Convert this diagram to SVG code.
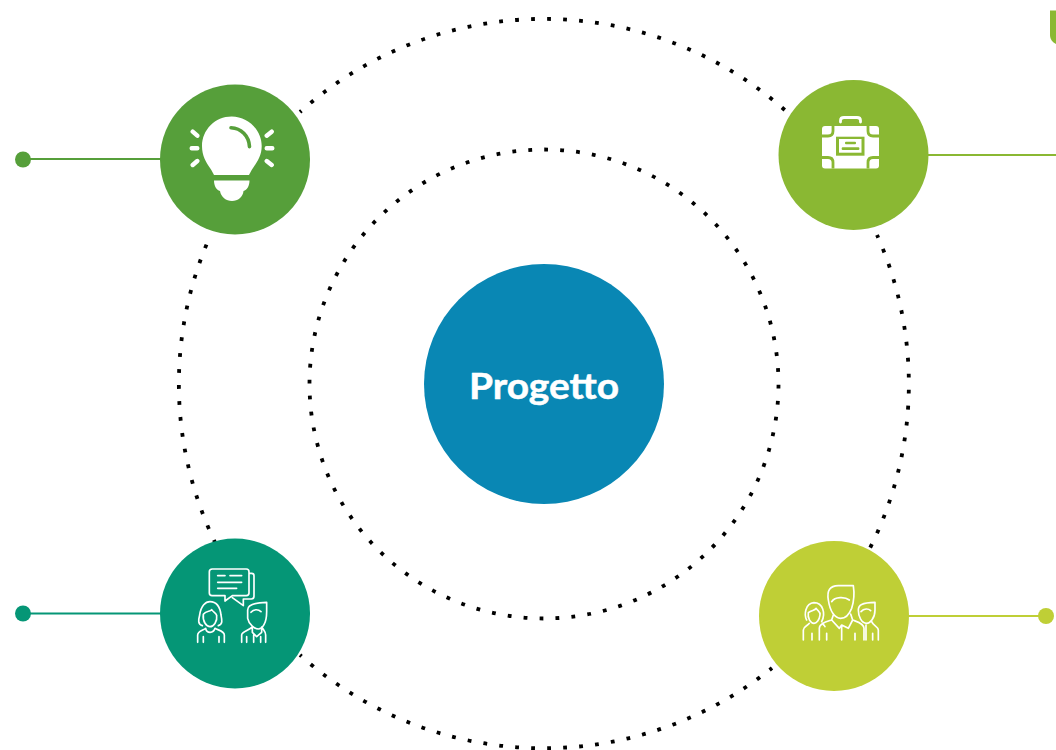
<svg xmlns="http://www.w3.org/2000/svg" width="1056" height="750" viewBox="0 0 1056 750">
<style>
.dots{fill:none;stroke:#000;stroke-width:3.8;stroke-dasharray:3.8 12.2}
.lead{fill:none;stroke-width:2}
.ray{fill:none;stroke:#fff;stroke-width:4.4;stroke-linecap:round}
.line{fill:none;stroke:#fff;stroke-width:5;stroke-linecap:round;stroke-linejoin:round}
.cut{fill:none;stroke:#8ab833;stroke-width:2.8}
.label{font-family:"Lato","Liberation Sans",sans-serif;font-weight:700;font-size:36px;fill:#fff;stroke:#fff;stroke-width:.5}
</style>
<rect width="1056" height="750" fill="#fff"/>
<g id="connectors">
<circle class="dots" cx="544" cy="384" r="234.500" stroke-dashoffset="15.150"/>
<path class="dots" stroke-dashoffset="1.900" d="M300 112A365 365 0 0 1 787 112"/>
<path class="dots" stroke-dashoffset=".8" d="M877 235A365 365 0 0 1 870 548"/>
<path class="dots" stroke-dashoffset=".7" d="M772 668A365 365 0 0 1 300 655"/>
<path class="dots" stroke-dashoffset="10.700" d="M217.900 548.100A365 365 0 0 1 208 241"/>
<path class="lead" stroke="#569f3a" d="M23 159H165"/>
<circle cx="23" cy="159.500" r="8" fill="#569f3a"/>
<path class="lead" stroke="#8ab833" d="M925 155H1056"/>
<path class="lead" stroke="#059676" d="M23 613.500H165"/>
<circle cx="23" cy="613.500" r="8" fill="#059676"/>
<path class="lead" stroke="#bfcf36" d="M905 616H1046"/>
<circle cx="1046" cy="616" r="8" fill="#bfcf36"/>
</g>
<g id="corner-tab"><path d="M1050 10.500H1056V44C1052.500 42.500 1050 39 1050 35Z" fill="#8ab833"/></g>
<g id="node-center">
<circle cx="544" cy="384" r="120" fill="#0987b4"/>
<text class="label" x="544" y="398.500" text-anchor="middle" textLength="150" lengthAdjust="spacingAndGlyphs">Progetto</text>
</g>
<g id="node-idea">
<circle cx="235" cy="159.500" r="75" fill="#569f3a"/>
<path fill="#fff" d="M231.700 116.500C215 116.500 202 130 202 146C202 156 206 162 210 168C212 171 213 173 214 175H249C250 173 251 171 253 168C257 162 261.700 156 261.700 146C261.700 130 248 116.500 231.700 116.500Z"/>
<path fill="#fff" d="M214 180.500H249.500C249.500 186 247 190 243.500 191C243 197 238 201 232 201C226 201 221 197 220 191C216.500 190 214 186 214 180.500Z"/>
<path d="M231 127.700C241 128 249 136 249.500 146.700" fill="none" stroke="#569f3a" stroke-width="3.600" stroke-linecap="round"/>
<path class="ray" d="M192.700 131.700L197.300 135.700M191.700 148.300H197.300M192.700 165L197.300 161M266.700 135.700L271.700 131.700M266.700 148.300H272.300M266.700 161L271.700 165"/>
</g>
<g id="node-case">
<circle cx="853.500" cy="155" r="75" fill="#8ab833"/>
<path d="M840.500 122V120.500C840.500 118.500 842 117.500 844 117.500H857C859 117.500 860.500 118.500 860.500 120.500V122" fill="none" stroke="#fff" stroke-width="2.800" stroke-linecap="round"/>
<rect x="822" y="126" width="57" height="42.500" rx="3" fill="#fff"/>
<path class="cut" d="M822 136H828Q833 136 833 131V126M879 136H873Q868 136 868 131V126M822 157.500H828Q833 157.500 833 162.500V168.500M879 157.500H873Q868 157.500 868 162.500V168.500"/>
<rect x="836" y="136.700" width="28.500" height="19" fill="#8ab833"/>
<rect x="839" y="139" width="22.500" height="13.700" fill="#fff"/>
<rect x="845" y="141.700" width="11" height="2.600" rx="1" fill="#8ab833"/>
<rect x="841.700" y="147.300" width="17.700" height="2.700" rx="1" fill="#8ab833"/>
</g>
<g id="node-talk">
<circle cx="235" cy="613.500" r="75" fill="#059676"/>
<g transform="translate(175 555) scale(.3333)">
<path class="line" d="M112 42H214Q222 42 222 50V114Q222 122 214 122H172L150 138V122H111Q103 122 103 114V50Q103 42 112 42ZM222 55H230Q237 55 237 62V124Q237 132 229 132H205V152L172 128"/>
<path class="line" d="M128 62H150M165 62H200M128 82H200M128 100H185"/>
<path class="line" d="M82 212C68 208 70 195 74 180C78 152 92 140 105 140C125 140 135 155 138 180C141 195 144 208 130 212"/>
<path class="line" d="M85 178C95 165 105 172 110 164C115 172 125 175 125 182C128 200 115 215 105 215C95 215 82 200 85 178Z"/>
<path class="line" d="M68 262V240C68 228 85 226 92 220C95 236 115 236 120 220C130 226 148 228 148 240V262M85 262V245M132 262V245"/>
<path class="line" d="M218 165C218 150 235 143 275 142V170C275 205 262 222 250 222C240 222 222 210 218 190ZM228 172C236 162 250 162 258 170"/>
<path class="line" d="M200 262V240C200 230 218 228 232 216V232L245 245L260 232V216C268 228 272 230 272 240V262M215 262V245M257 262V245M236 262V240"/>
</g>
</g>
<g id="node-team">
<circle cx="834" cy="616" r="75" fill="#bfcf36"/>
<g transform="translate(790 570) scale(.3333)">
<path class="line" d="M115 90C110 60 120 48 145 47H190C195 80 190 100 185 115C175 140 160 145 152 145C135 145 120 125 115 90ZM125 95C135 80 165 80 178 90"/>
<path class="line" d="M130 135L125 150L148 175L155 165L175 175L188 150L182 132M155 165V210M88 210V175C88 160 110 155 125 150M222 210V175C222 160 200 155 188 150M110 210V190M195 210V190"/>
<path class="line" d="M50 150C42 135 45 100 72 98C98 98 108 130 95 155M55 128C65 120 75 122 78 115C85 125 92 125 90 135C88 150 80 160 72 160C62 160 52 145 55 128Z"/>
<path class="line" d="M40 210V180C40 170 52 168 58 160M66 210V190M98 160C100 165 105 168 105 170"/>
<path class="line" d="M205 120C205 105 215 98 255 97V120C255 145 240 160 230 160C215 160 205 140 205 120ZM213 125C222 115 235 115 242 122M265 210V180C265 170 250 168 245 155M248 210V190M228 165V210"/>
</g>
</g>
</svg>
